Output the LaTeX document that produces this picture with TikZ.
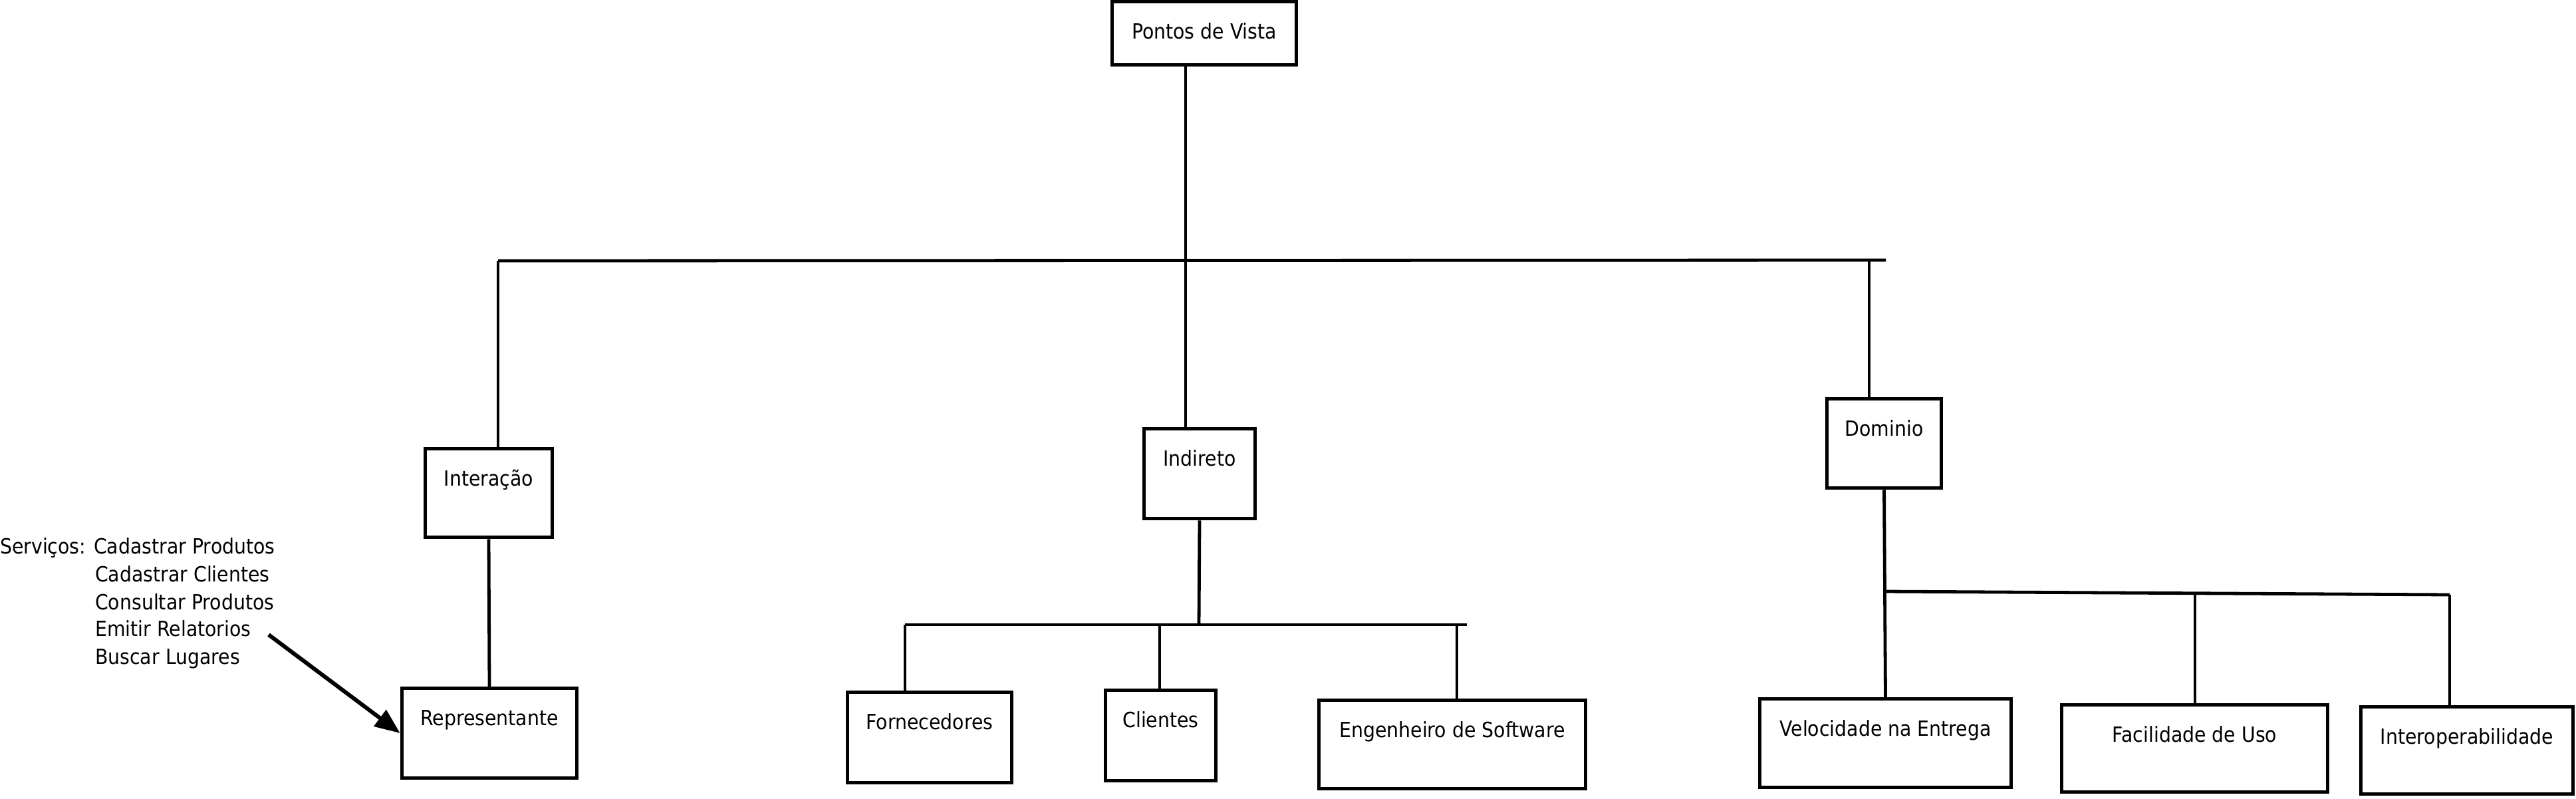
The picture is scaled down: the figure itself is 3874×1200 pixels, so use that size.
\documentclass[tikz,border=0pt]{standalone}
\usepackage{fontspec}
\setmainfont{DejaVu Sans}[FakeStretch=0.9]
\usetikzlibrary{arrows.meta}
\begin{document}
\begin{tikzpicture}[x=1pt,y=-1pt,
  box/.style={draw=black, line width=5.5pt, inner sep=0pt, fill=white},
  ln/.style={line width=4.8pt, draw=black},
  txt/.style={font=\fontsize{31.5}{41}\selectfont, inner sep=0pt},
  boxlab/.style={label={[txt,anchor=base,yshift=-59pt]north:#1}},
  arr/.style={line width=6pt, draw=black, -{Triangle[length=38pt,width=30pt]}}]
\fill[white] (0,0) rectangle (3874,1200);
\useasboundingbox (0,0) rectangle (3874,1200);

% boxes
\node[box, minimum width=277pt, minimum height=95pt, boxlab=Pontos de Vista] (root) at (1811,50) {};
\node[box, minimum width=191pt, minimum height=133pt, boxlab=Interação] (inter) at (735,741) {};
\node[box, minimum width=263pt, minimum height=135pt, boxlab=Representante] (rep) at (736,1102) {};
\node[box, minimum width=167pt, minimum height=135pt, boxlab=Indireto] (indi) at (1804,712) {};
\node[box, minimum width=247pt, minimum height=136pt, boxlab=Fornecedores] (forn) at (1398,1108.5) {};
\node[box, minimum width=166pt, minimum height=136pt, boxlab=Clientes] (cli) at (1745.5,1105.5) {};
\node[box, minimum width=401pt, minimum height=133pt, boxlab=Engenheiro de Software] (eng) at (2184,1119) {};
\node[box, minimum width=172pt, minimum height=134pt, boxlab=Dominio] (dom) at (2833.5,666.5) {};
\node[box, minimum width=378pt, minimum height=133pt, boxlab=Velocidade na Entrega] (vel) at (2835.5,1117) {};
\node[box, minimum width=400pt, minimum height=131pt, boxlab=Facilidade de Uso] (fac) at (3300.5,1125) {};
\node[box, minimum width=319pt, minimum height=131pt, boxlab=Interoperabilidade] (int) at (3710,1128) {};

% junctions
\coordinate (tl) at (749,392);
\coordinate (tr) at (2836,391);
\coordinate (td) at (2811,391);
\coordinate (tc) at (1783,392);
\coordinate (ib) at (1803,939);
\coordinate (ibl) at (1361,939);
\coordinate (ibr) at (2206,939);
\coordinate (ibc) at (1744,939);
\coordinate (ibe) at (2191,937);
\coordinate (db) at (2834,889);
\coordinate (dbf) at (3301,892);
\coordinate (dbr) at (3684,894);

% connectors
\draw[ln] (root.south -| tc) -- (indi.north -| tc);
\draw[ln] (tl) -- (tr);
\draw[ln] (tl) -- (inter.north -| tl);
\draw[ln] (td) -- (dom.north -| td);
\draw[ln] (inter.south) -- (rep.north);
\draw[ln] (indi.south) -- (ib);
\draw[ln] (ibl) -- (ibr);
\draw[ln] (ibl) -- (forn.north -| ibl);
\draw[ln] (ibc) -- (cli.north -| ibc);
\draw[ln] (ibe) -- (eng.north -| ibe);
\draw[ln] (dom.south) -- (vel.north);
\draw[ln] (db) -- (dbr);
\draw[ln] (dbf) -- (fac.north -| dbf);
\draw[ln] (dbr) -- (int.north -| dbr);

% services annotation
\node[txt, anchor=base west] (s1) at (0,832) {Serviços: Cadastrar Produtos};
\node[txt, anchor=base west] (s2) at (143,874) {Cadastrar Clientes};
\node[txt, anchor=base west] (s3) at (143,916) {Consultar Produtos};
\node[txt, anchor=base west] (s4) at (143,956) {Emitir Relatorios};
\node[txt, anchor=base west] (s5) at (143,998) {Buscar Lugares};
\coordinate (as) at (404,954);
\draw[arr] (as) -- (rep.west);
\end{tikzpicture}
\end{document}
